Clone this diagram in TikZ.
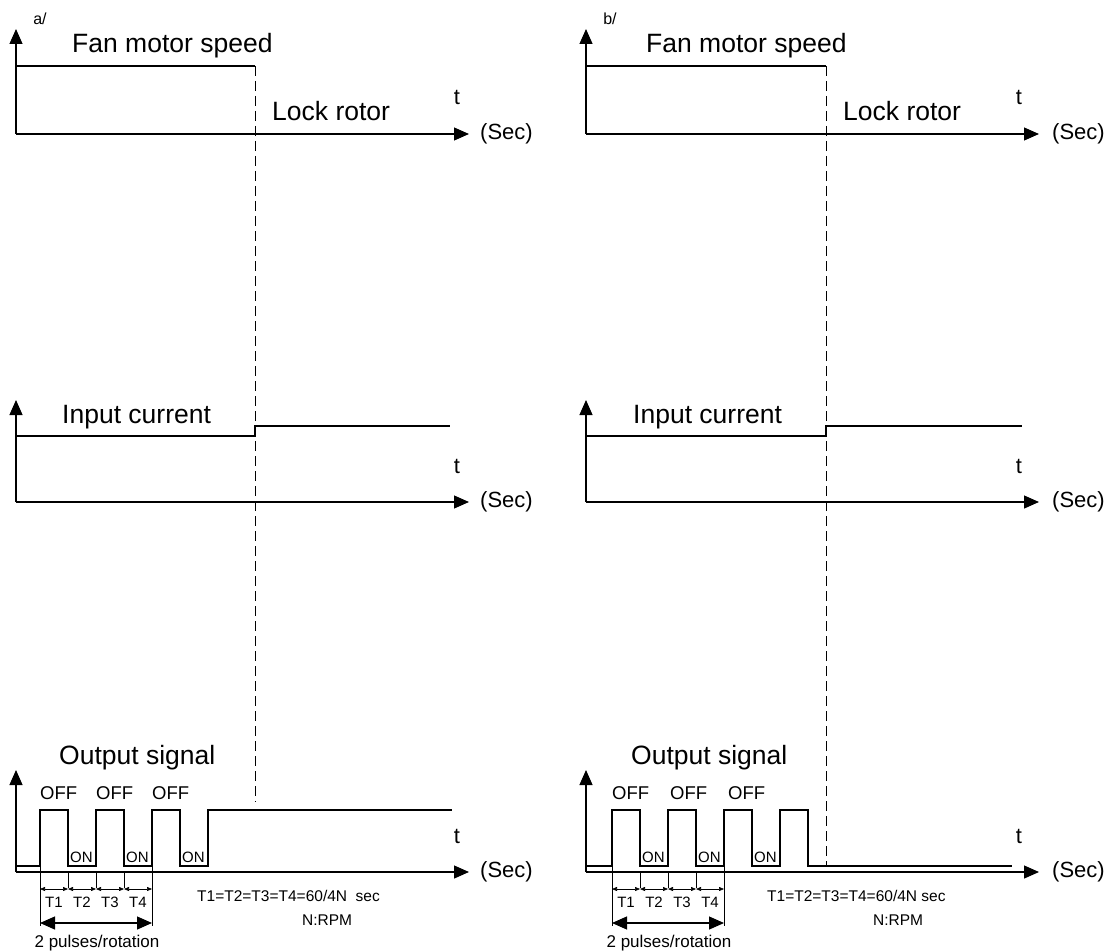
\documentclass[tikz,border=0pt]{standalone}
\usepackage{fontspec}
\setmainfont{Liberation Sans}
\usetikzlibrary{arrows.meta}
\tikzset{
  axis/.style={-{Triangle[length=15pt,width=13pt]},line width=1.2pt},
  trace/.style={line width=1.1pt},
  lockline/.style={line width=0.9pt,dash pattern=on 10pt off 5pt},
  tline/.style={line width=0.9pt},
  span/.style={{Triangle[length=5pt,width=4pt]}-{Triangle[length=5pt,width=4pt]},line width=0.6pt},
  bigspan/.style={{Triangle[length=15pt,width=13pt]}-{Triangle[length=15pt,width=13pt]},line width=1.2pt},
  big/.style={font=\fontsize{26.5}{30}\selectfont,inner sep=0pt,anchor=base west},
  secl/.style={font=\fontsize{22}{26}\selectfont,inner sep=0pt},
  tag/.style={font=\fontsize{16}{18}\selectfont,inner sep=0pt},
  offlbl/.style={font=\fontsize{18.5}{20}\selectfont,inner sep=0pt,anchor=base west},
  onlbl/.style={font=\fontsize{15}{17}\selectfont,inner sep=0pt,anchor=base west},
  smalllbl/.style={font=\fontsize{15}{17}\selectfont,inner sep=0pt},
  eqlbl/.style={font=\fontsize{15.5}{17}\selectfont,inner sep=0pt,anchor=west},
  pulselbl/.style={font=\fontsize{17}{19}\selectfont,inner sep=0pt},
}
\begin{document}
\begin{tikzpicture}[x=1pt,y=-1pt]
  \useasboundingbox (0,0) rectangle (1116,952);

  % ---- a/ ----
  % fan motor speed
  \draw[axis] (16,134) -- (16,29);
  \draw[axis] (16,134) -- (469,134);
  \draw[trace] (16,66) -- (255,66);
  \draw[lockline] (255,66) -- (255,802);
  \node[tag] (a-tag) at (40,19) {a/};
  \node[big] (a-fan) at (72,53) {Fan motor speed};
  \node[big] (a-lock) at (272,121) {Lock rotor};
  \node[secl,anchor=base] (a-t1) at (457,105) {t};
  \node[secl,anchor=west] (a-sec1) at (480,134) {(Sec)};

  % input current
  \draw[axis] (16,502) -- (16,400);
  \draw[axis] (16,502) -- (469,502);
  \draw[trace] (16,436) -- (255,436) -- (255,426) -- (450,426);
  \node[big] (a-cur) at (62,423) {Input current};
  \node[secl,anchor=base] (a-t2) at (457,473) {t};
  \node[secl,anchor=west] (a-sec2) at (480,502) {(Sec)};

  % output signal
  \draw[axis] (16,872) -- (16,770);
  \draw[axis] (16,872) -- (469,872);
  \draw[trace] (16,866) -- (40,866) -- (40,810) -- (68,810) -- (68,866)
    -- (96,866) -- (96,810) -- (124,810) -- (124,866) -- (152,866)
    -- (152,810) -- (180,810) -- (180,866) -- (208,866) -- (208,810) -- (452,810);
  \node[big] (a-out) at (59,764) {Output signal};
  \foreach \x/\n in {40/1,96/2,152/3}
    \node[offlbl] (a-off\n) at (\x,799) {OFF};
  \foreach \x/\n in {70/1,126/2,182/3}
    \node[onlbl] (a-on\n) at (\x,862) {ON};
  \foreach \x in {68,96,124}
    \draw[tline] (\x,872) -- (\x,888);
  \draw[tline] (40,866) -- (40,926);
  \draw[tline] (152,866) -- (152,926);
  \foreach \x/\n in {40/1,68/2,96/3,124/4}{
    \draw[span] (\x,889) -- ++(28,0);
    \node[smalllbl] (a-T\n) at (\x+14,902) {T\n};
  }
  \draw[bigspan] (40,923) -- (152,923);
  \node[pulselbl] (a-rot) at (97,943) {2 pulses/rotation};
  \node[eqlbl] (a-eq) at (197,896) {T1=T2=T3=T4=60/4N\ \ sec};
  \node[eqlbl] (a-rpm) at (302,920) {N:RPM};
  \node[secl,anchor=base] (a-t3) at (457,843) {t};
  \node[secl,anchor=west] (a-sec3) at (480,872) {(Sec)};

  % ---- b/ ----
  \begin{scope}[shift={(570,0)}]
    % fan motor speed
    \draw[axis] (16,134) -- (16,29);
    \draw[axis] (16,134) -- (469,134);
    \draw[trace] (16,66) -- (256,66);
    \draw[lockline] (256,66) -- (256,866);
    \node[tag] (b-tag) at (40,19) {b/};
    \node[big] (b-fan) at (76,53) {Fan motor speed};
    \node[big] (b-lock) at (273,121) {Lock rotor};
    \node[secl,anchor=base] (b-t1) at (449,105) {t};
    \node[secl,anchor=west] (b-sec1) at (482,134) {(Sec)};

    % input current
    \draw[axis] (16,502) -- (16,400);
    \draw[axis] (16,502) -- (469,502);
    \draw[trace] (16,436) -- (256,436) -- (256,426) -- (452,426);
    \node[big] (b-cur) at (63,423) {Input current};
    \node[secl,anchor=base] (b-t2) at (449,473) {t};
    \node[secl,anchor=west] (b-sec2) at (482,502) {(Sec)};

    % output signal
    \draw[axis] (16,872) -- (16,770);
    \draw[axis] (16,872) -- (469,872);
    \draw[trace] (16,866) -- (42,866) -- (42,810) -- (70,810) -- (70,866)
      -- (98,866) -- (98,810) -- (126,810) -- (126,866) -- (154,866)
      -- (154,810) -- (182,810) -- (182,866) -- (210,866) -- (210,810)
      -- (238,810) -- (238,866) -- (442,866);
    \node[big] (b-out) at (61,764) {Output signal};
    \foreach \x/\n in {42/1,100/2,158/3}
      \node[offlbl] (b-off\n) at (\x,799) {OFF};
    \foreach \x/\n in {72/1,128/2,184/3}
      \node[onlbl] (b-on\n) at (\x,862) {ON};
    \foreach \x in {70,98,126}
      \draw[tline] (\x,872) -- (\x,888);
    \draw[tline] (42,866) -- (42,926);
    \draw[tline] (154,866) -- (154,926);
    \foreach \x/\n in {42/1,70/2,98/3,126/4}{
      \draw[span] (\x,889) -- ++(28,0);
      \node[smalllbl] (b-T\n) at (\x+14,902) {T\n};
    }
    \draw[bigspan] (42,923) -- (154,923);
    \node[pulselbl] (b-rot) at (99,943) {2 pulses/rotation};
    \node[eqlbl] (b-eq) at (197,896) {T1=T2=T3=T4=60/4N sec};
    \node[eqlbl] (b-rpm) at (303,920) {N:RPM};
    \node[secl,anchor=base] (b-t3) at (449,843) {t};
    \node[secl,anchor=west] (b-sec3) at (482,872) {(Sec)};
  \end{scope}
\end{tikzpicture}
\end{document}
